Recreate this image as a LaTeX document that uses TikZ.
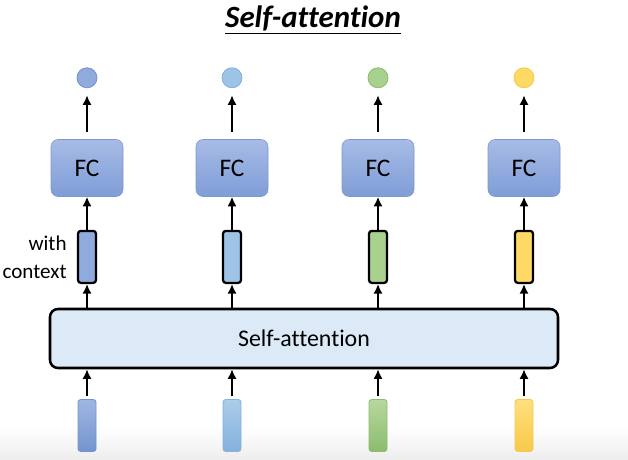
\documentclass[tikz,border=0pt]{standalone}
\usepackage{fontspec}
\setmainfont{Carlito}[Ligatures=NoCommon]
\usetikzlibrary{arrows.meta,positioning}
\definecolor{fctop}{HTML}{A7BBE6}
\definecolor{fcbot}{HTML}{7F9DD7}
\definecolor{fcedge}{HTML}{7F98CC}
\definecolor{blueA}{HTML}{8FAADC}
\definecolor{blueAd}{HTML}{7494D0}
\definecolor{blueB}{HTML}{9DC3E6}
\definecolor{blueBd}{HTML}{84B1DD}
\definecolor{greenC}{HTML}{A9D18E}
\definecolor{greenCd}{HTML}{8CBC6E}
\definecolor{yellowD}{HTML}{FFD966}
\definecolor{yellowDd}{HTML}{F7C94A}
\definecolor{attnfill}{HTML}{DCEAF7}
\tikzset{
  fcbox/.style={draw=fcedge, rounded corners=5pt, top color=fctop, bottom color=fcbot, minimum width=1.8cm, minimum height=1.425cm, inner sep=0pt, font=\fontsize{18}{20}\selectfont},
  outdot/.style={circle, minimum size=0.5cm, inner sep=0pt, line width=0.6pt},
  ctxvec/.style={draw=black, line width=1.6pt, rounded corners=2pt, minimum width=0.45cm, minimum height=1.3cm, inner sep=0pt},
  invec/.style={rounded corners=2pt, minimum width=0.45cm, minimum height=1.3cm, inner sep=0pt, line width=0.6pt},
  attnbox/.style={draw=black, line width=1.8pt, rounded corners=0.2cm, fill=attnfill, minimum width=12.7cm, minimum height=1.475cm, font=\fontsize{17}{20}\selectfont},
  arrow/.style={-{Latex[length=2.4mm,width=2.3mm]}, line width=1.8pt, draw=black},
  note/.style={align=right, font=\fontsize{15}{20}\selectfont, inner sep=0pt}
}

\begin{document}
\begin{tikzpicture}[node distance=0.8cm]
\useasboundingbox (0,0) rectangle (15.7,-11.5);
\fill[top color=white, bottom color=black!7] (0,-10.7) rectangle (15.7,-11.5);
\node[font=\fontsize{22}{24}\selectfont\bfseries\itshape] (title) at (7.825,-0.5) {\underline{Self-attention}};

% fully connected layers
\node[fcbox] (fc1) at (2.175,-4.2) {FC};
\node[fcbox] (fc2) at (5.8,-4.2) {FC};
\node[fcbox] (fc3) at (9.45,-4.2) {FC};
\node[fcbox] (fc4) at (13.1,-4.2) {FC};

% outputs
\node[outdot, fill=blueA, draw=blueAd, above=1.275cm of fc1] (o1) {};
\node[outdot, fill=blueB, draw=blueBd, above=1.275cm of fc2] (o2) {};
\node[outdot, fill=greenC, draw=greenCd, above=1.275cm of fc3] (o3) {};
\node[outdot, fill=yellowD, draw=yellowDd, above=1.275cm of fc4] (o4) {};

% vectors with context
\node[ctxvec, fill=blueA, below=0.825cm of fc1] (c1) {};
\node[ctxvec, fill=blueB, below=0.825cm of fc2] (c2) {};
\node[ctxvec, fill=greenC, below=0.825cm of fc3] (c3) {};
\node[ctxvec, fill=yellowD, below=0.825cm of fc4] (c4) {};
\node[note, left=0.25cm of c1] (ctxlabel) {with\\context};

\node[attnbox] (attn) at (7.6,-8.4625) {Self-attention};

% inputs
\node[invec, top color=blueA!85!white, bottom color=blueAd, draw=blueAd] (x1) at (2.175,-10.6375) {};
\node[invec, top color=blueB!85!white, bottom color=blueBd, draw=blueBd] (x2) at (5.8,-10.6375) {};
\node[invec, top color=greenC!85!white, bottom color=greenCd, draw=greenCd] (x3) at (9.45,-10.6375) {};
\node[invec, top color=yellowD!85!white, bottom color=yellowDd, draw=yellowDd] (x4) at (13.1,-10.6375) {};

\draw[arrow, shorten <=2pt] (x1) -- (x1 |- attn.south);
\draw[arrow, shorten <=2pt] (x2) -- (x2 |- attn.south);
\draw[arrow, shorten <=2pt] (x3) -- (x3 |- attn.south);
\draw[arrow, shorten <=2pt] (x4) -- (x4 |- attn.south);
\draw[arrow] (c1 |- attn.north) -- (c1);
\draw[arrow] (c2 |- attn.north) -- (c2);
\draw[arrow] (c3 |- attn.north) -- (c3);
\draw[arrow] (c4 |- attn.north) -- (c4);
\draw[arrow] (c1) -- (fc1);
\draw[arrow] (c2) -- (fc2);
\draw[arrow] (c3) -- (fc3);
\draw[arrow] (c4) -- (fc4);
\draw[arrow, shorten <=5pt, shorten >=5pt] (fc1) -- (o1);
\draw[arrow, shorten <=5pt, shorten >=5pt] (fc2) -- (o2);
\draw[arrow, shorten <=5pt, shorten >=5pt] (fc3) -- (o3);
\draw[arrow, shorten <=5pt, shorten >=5pt] (fc4) -- (o4);
\end{tikzpicture}
\end{document}
